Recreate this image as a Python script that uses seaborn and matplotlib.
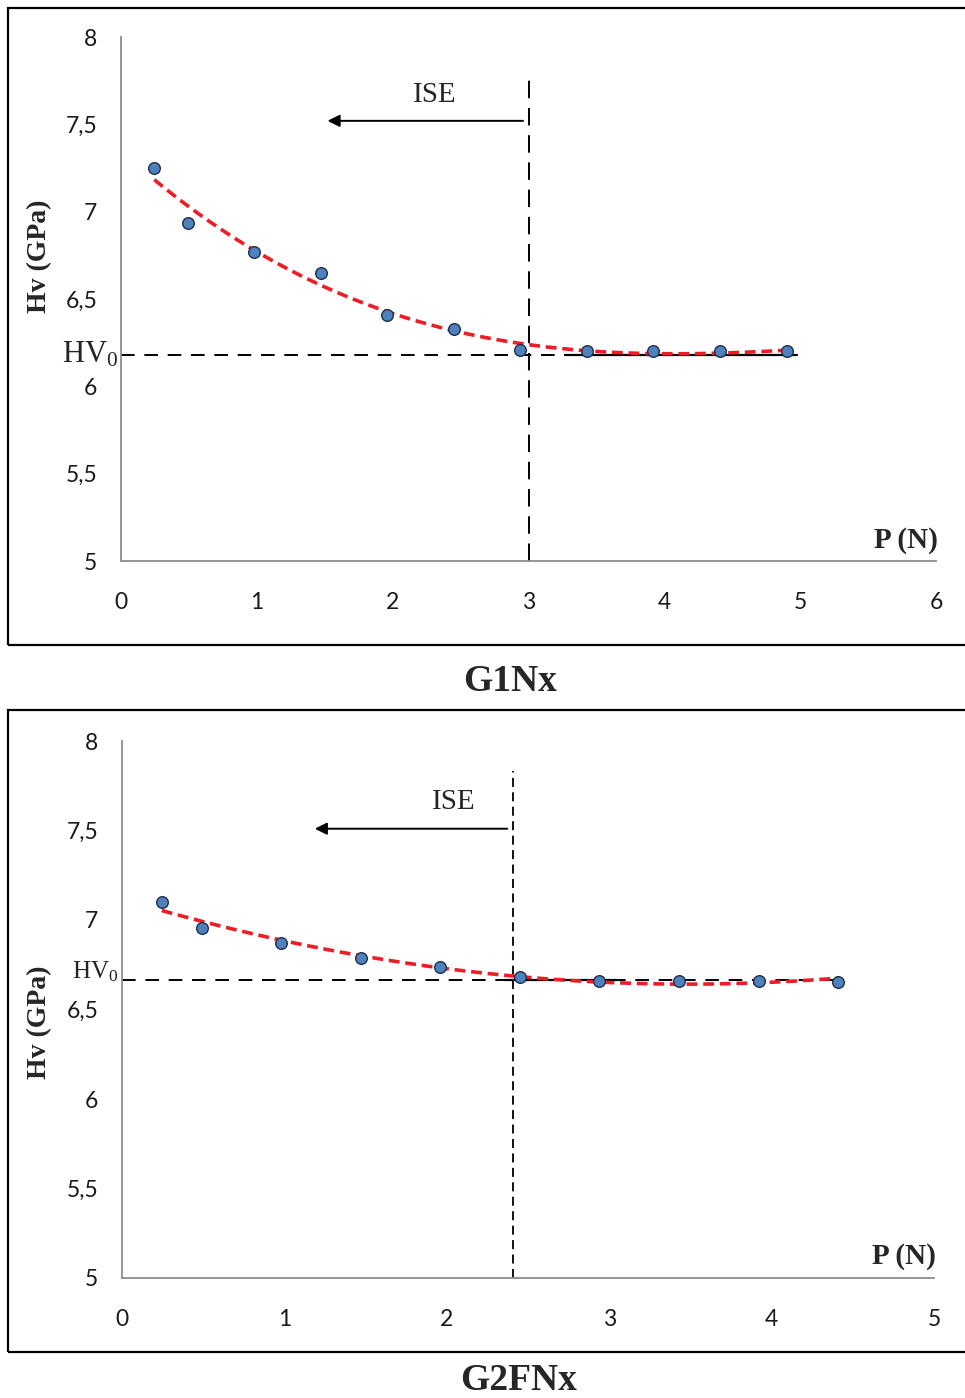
import numpy as np
import pandas as pd
import matplotlib
matplotlib.use("Agg")
import matplotlib.pyplot as plt
import seaborn as sns
from matplotlib.patches import Rectangle
from matplotlib.ticker import FixedLocator, FuncFormatter

# ---------------- data ----------------
p1 = [0.245, 0.49, 0.98, 1.47, 1.96, 2.45, 2.94, 3.43, 3.92, 4.41, 4.90]
hv1 = [7.25, 6.935, 6.77, 6.65, 6.41, 6.33, 6.21, 6.20, 6.20, 6.20, 6.20]
hv0_1 = 6.18
ise_1 = 3.0

p2 = [0.245, 0.49, 0.98, 1.47, 1.96, 2.45, 2.94, 3.43, 3.92, 4.41]
hv2 = [7.10, 6.955, 6.87, 6.79, 6.74, 6.68, 6.66, 6.66, 6.66, 6.655]
hv0_2 = 6.665
ise_2 = 2.41

titles = ["G1Nx", "G2FNx"]
xmax = [6, 5]
yticks = [5, 5.5, 6, 6.5, 7, 7.5, 8]
fit_order = [3, 2]

sns.set_theme(style="white")
plt.rcParams["font.family"] = ["Liberation Serif", "DejaVu Serif"]
plt.rcParams["mathtext.fontset"] = "custom"
plt.rcParams["mathtext.rm"] = "Liberation Serif"
plt.rcParams["mathtext.it"] = "Liberation Serif:italic"
plt.rcParams["mathtext.bf"] = "Liberation Serif:bold"

W, H = 965, 1398
fig = plt.figure(figsize=(W / 100, H / 100), dpi=100)

def fx(px):
    return px / W

def fy(py):
    return 1 - py / H

# axes placement (pixel positions of plot area)
ax_boxes = [(121, 936, 37, 561), (122, 934, 741, 1278)]
frames = [(8, 8, 645), (8, 710, 1352)]
title_pos = [(510, 682), (519, 1380)]
ylabel_y = [256, 1022]
hv0_size = [22, 18]
hv0_dy = [0.0, 0.045]

comma = FuncFormatter(lambda v, pos: (("%g" % v).replace(".", ",")))

panels = [
    (p1, hv1, hv0_1, ise_1, 4.98, (3.27, 4.98), 7.78, 1.50, 7.52, 2.31, 7.67),
    (p2, hv2, hv0_2, ise_2, 4.42, (2.35, 3.05), 7.83, 1.17, 7.51, 2.04, 7.66),
]

for i, (px_, hv, hv0, ise, hvend, solid, vtop, arrx, arry, isex, isey) in enumerate(panels):
    l, r, t, b = ax_boxes[i]
    ax = fig.add_axes([fx(l), fy(b), fx(r) - fx(l), fy(t) - fy(b)])
    df = pd.DataFrame({"P": px_, "Hv": hv})

    # polynomial trend line fitted to the data
    coef = np.polyfit(df["P"], df["Hv"], fit_order[i])
    xs = np.linspace(df["P"].min(), df["P"].max(), 200)
    fit = pd.DataFrame({"P": xs, "Hv": np.polyval(coef, xs)})

    # reference lines
    ax.plot([0, hvend], [hv0, hv0], color="black", lw=1.4, dashes=(7, 5), zorder=2)
    ax.plot(list(solid), [hv0, hv0], color="black", lw=1.6, zorder=2)
    if i == 0:
        ax.plot([ise, ise], [5, vtop], color="black", lw=1.4, dashes=(9, 5), zorder=2)
    else:
        ax.plot([ise, ise], [5, vtop], color="black", lw=1.3, dashes=(5, 3), zorder=2)

    sns.lineplot(data=fit, x="P", y="Hv", ax=ax, color="#ee1c24", lw=2.6,
                 dashes=False, zorder=3)
    ax.lines[-1].set_dashes((3, 1.6))
    sns.scatterplot(data=df, x="P", y="Hv", ax=ax, color="#4f81bd", s=70,
                    edgecolor="#1f2f4a", linewidth=1.0, zorder=4)

    # arrow + ISE
    ax.annotate("", xy=(arrx, arry), xytext=(ise - 0.02, arry),
                arrowprops=dict(arrowstyle="-|>", color="black", lw=1.4,
                                mutation_scale=18), zorder=5)
    ax.text(isex, isey, "ISE", fontsize=21, ha="center", va="center")

    ax.set_xlim(0, xmax[i])
    ax.set_ylim(5, 8)
    ax.xaxis.set_major_locator(FixedLocator(list(range(0, xmax[i] + 1))))
    ax.yaxis.set_major_locator(FixedLocator(yticks))
    ax.yaxis.set_major_formatter(comma)
    ax.set_xlabel("")
    ax.set_ylabel("")
    sns.despine(ax=ax)
    for s in ["left", "bottom"]:
        ax.spines[s].set_color("#8c8c8c")
        ax.spines[s].set_linewidth(1.3)
    ax.tick_params(axis="both", colors="#8c8c8c", direction="out", length=5,
                   width=1.2, labelcolor="#1a1a1a", labelsize=16.5)
    ax.tick_params(axis="x", pad=17)
    ax.tick_params(axis="y", pad=12)
    for lab in ax.get_xticklabels() + ax.get_yticklabels():
        lab.set_fontfamily(["Lato", "DejaVu Sans"])
    ax.patch.set_alpha(0)

    # HV0 label
    trans = matplotlib.transforms.blended_transform_factory(ax.transAxes, ax.transData)
    ax.text(-0.004, hv0 + hv0_dy[i], r"HV$_{\mathrm{0}}$", transform=trans,
            fontsize=hv0_size[i], ha="right", va="center")

    # P (N)
    ax.text(1.002, 5.12, "P (N)", transform=trans, fontsize=21,
            fontweight="bold", ha="right", va="center")

    # y label
    fig.text(fx(40), fy(ylabel_y[i]), "Hv (GPa)", rotation=90, fontsize=20,
             fontweight="bold", ha="center", va="center")

    # frame
    fl, ft, fb = frames[i]
    fig.patches.append(Rectangle((fx(fl), fy(fb)), fx(W + 5) - fx(fl), fy(ft) - fy(fb),
                                 transform=fig.transFigure, fill=False,
                                 edgecolor="black", lw=1.6))
    tx, ty = title_pos[i]
    fig.text(fx(tx), fy(ty), titles[i], fontsize=27, fontweight="bold",
             ha="center", va="center")

fig.savefig("out.png", dpi=100)
